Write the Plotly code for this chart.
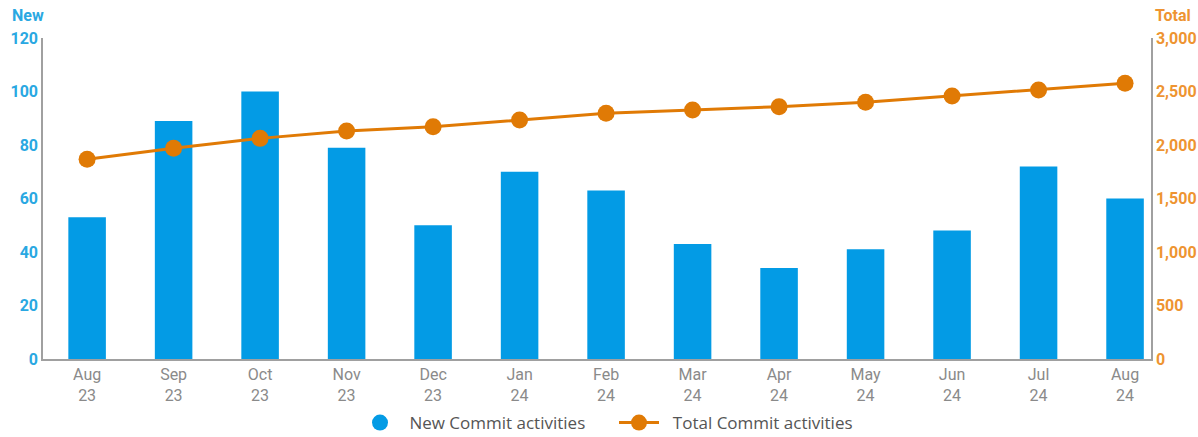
import plotly.graph_objects as go

months = ["Aug<br>23", "Sep<br>23", "Oct<br>23", "Nov<br>23", "Dec<br>23", "Jan<br>24", "Feb<br>24",
          "Mar<br>24", "Apr<br>24", "May<br>24", "Jun<br>24", "Jul<br>24", "Aug<br>24"]
new_commits = [53, 89, 100, 79, 50, 70, 63, 43, 34, 41, 48, 72, 60]
total_commits = [1866, 1969, 2062, 2131, 2171, 2234, 2296, 2327, 2358, 2399, 2458, 2514, 2577]
left_ticks = [0, 20, 40, 60, 80, 100, 120]
right_ticks = [0, 500, 1000, 1500, 2000, 2500, 3000]

BLUE = "#039BE5"
BLUE_TXT = "#2AA8E2"
ORANGE = "#E07A05"
ORANGE_TXT = "#EE9431"
AXIS = "#A0A0A0"

L, R, T, B = 43, 47, 38, 78
pw = 1198 - L - R
ph = 437 - T - B

fig = go.Figure()
fig.add_trace(go.Bar(x=months, y=new_commits, marker_color=BLUE, marker_line_width=0,
                     name="New Commit activities", showlegend=False, yaxis="y"))
# legend entry with circle symbol for the bars
fig.add_trace(go.Scatter(x=[None], y=[None], mode="markers",
                         marker=dict(color=BLUE, size=17, symbol="circle"),
                         name="\u00a0New Commit activities", showlegend=True, yaxis="y"))
fig.add_trace(go.Scatter(x=months, y=total_commits, mode="lines+markers",
                         line=dict(color=ORANGE, width=3),
                         marker=dict(color=ORANGE, size=17),
                         name="\u00a0\u00a0Total Commit activities", yaxis="y2"))

fig.update_layout(
    width=1198, height=437,
    margin=dict(l=L, r=R, t=T, b=B, autoexpand=False),
    plot_bgcolor="white", paper_bgcolor="white",
    bargap=0.566,
    font=dict(family="Roboto", size=15),
    xaxis=dict(type="category", range=[-0.51, 12.3], showline=True, linecolor=AXIS, linewidth=1.5,
               ticks="", showgrid=False, automargin=False,
               tickfont=dict(family="Roboto", size=16, color="#8A8A8A")),
    yaxis=dict(range=[0, 120], tickvals=left_ticks, showline=True, linecolor=AXIS, linewidth=1.5,
               showgrid=False, zeroline=False, ticks="", automargin=False,
               tickfont=dict(family="Roboto", size=16, color=BLUE_TXT, weight="bold")),
    yaxis2=dict(range=[0, 3000], tickvals=right_ticks, overlaying="y", side="right",
                showline=True, linecolor=AXIS, linewidth=1.5, showgrid=False, zeroline=False,
                ticks="", tickformat=",", automargin=False,
                tickfont=dict(family="Roboto", size=16, color=ORANGE_TXT, weight="bold")),
    legend=dict(orientation="h", x=(355 - L) / pw, xanchor="left", y=(T + ph - 423) / ph,
                yanchor="middle",
                font=dict(family="Open Sans", size=17, color="#555555"),
                itemwidth=40, entrywidth=204, entrywidthmode="pixels"),
)
fig.add_annotation(text="New", xref="paper", yref="paper", x=(10 - L) / pw, y=(T + ph - 16) / ph,
                   xanchor="left", yanchor="middle", showarrow=False,
                   font=dict(family="Roboto", size=16, color=BLUE_TXT, weight="bold"))
fig.add_annotation(text="Total", xref="paper", yref="paper", x=(1193 - L) / pw, y=(T + ph - 16) / ph,
                   xanchor="right", yanchor="middle", showarrow=False,
                   font=dict(family="Roboto", size=16, color=ORANGE_TXT, weight="bold"))

fig.write_html("out.html")
